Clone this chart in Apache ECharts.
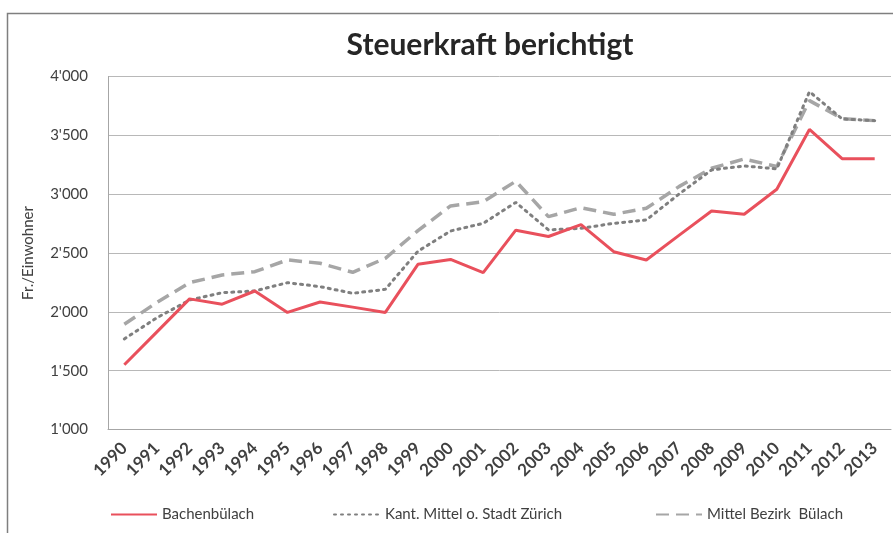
<!DOCTYPE html>
<html>
<head>
<meta charset="utf-8">
<script src="https://cdn.jsdelivr.net/npm/echarts@6/dist/echarts.min.js"></script>
<style>html,body{margin:0;padding:0;background:#fff;}#c{width:893px;height:533px;}</style>
</head>
<body>
<div id="c"></div>
<script>
const years = ['1990','1991','1992','1993','1994','1995','1996','1997','1998','1999','2000','2001','2002','2003','2004','2005','2006','2007','2008','2009','2010','2011','2012','2013'];
const bachenbuelach = [1550,1830,2110,2065,2177,1995,2084,2040,1995,2404,2445,2333,2694,2640,2741,2511,2441,2650,2857,2829,3042,3550,3302,3302];
const kantMittel = [1770,1950,2100,2163,2177,2248,2214,2158,2191,2515,2687,2752,2930,2696,2710,2752,2781,3000,3206,3240,3215,3871,3640,3625];
const bezirkBuelach = [1895,2080,2248,2313,2341,2441,2413,2336,2455,2690,2900,2936,3110,2809,2885,2829,2880,3064,3220,3299,3235,3795,3642,3625];
const yTicks = [1000,1500,2000,2500,3000,3500,4000];
const names = ['Bachenbülach','Kant. Mittel o. Stadt Zürich','Mittel Bezirk  Bülach'];

const chart = echarts.init(document.getElementById('c'), null, {renderer:'canvas'});
const font = 'Lato, "Open Sans", sans-serif';
const fmt = v => {
  const s = String(v);
  return s.length > 3 ? s.slice(0, s.length-3) + "'" + s.slice(-3) : s;
};
const legendBase = {
  orient:'horizontal', top: 502, itemWidth: 46, itemHeight: 14, itemGap: 6,
  itemStyle:{opacity:0},
  textStyle:{fontFamily:font, fontSize:15, color:'#404040'}
};
chart.setOption({
  animation:false,
  backgroundColor:'#ffffff',
  graphic:[{type:'rect', shape:{x:7.5,y:13.5,width:900,height:530}, style:{fill:'none', stroke:'#7f7f7f', lineWidth:1.5}, silent:true, z:-1}],
  title:{text:'Steuerkraft berichtigt', left:485, textAlign:'center', top:25,
    textStyle:{fontFamily:font, fontWeight:'bold', fontSize:30, color:'#262626'}},
  grid:{left:108, top:76.5, right:2, bottom:103.5, containLabel:false},
  legend:[
    Object.assign({}, legendBase, {left:105, data:[names[0]]}),
    Object.assign({}, legendBase, {left:328, data:[names[1]]}),
    Object.assign({}, legendBase, {left:650, data:[names[2]]})
  ],
  xAxis:{type:'category', data:years, boundaryGap:true,
    axisLine:{show:true, lineStyle:{color:'#a6a6a6', width:1}},
    axisTick:{show:false},
    axisLabel:{rotate:45, interval:0, fontFamily:font, fontSize:17, fontWeight:'bold', color:'#404040', margin:16}},
  yAxis:{type:'value', min:1000, max:4000, interval:500,
    name:'Fr./Einwohner', nameLocation:'middle', nameGap:72, nameRotate:90,
    nameTextStyle:{fontFamily:font, fontSize:15, color:'#404040'},
    axisLine:{show:true, lineStyle:{color:'#a6a6a6', width:1}},
    axisTick:{show:false},
    splitLine:{lineStyle:{color:'#b8b8b8', width:1}},
    axisLabel:{fontFamily:font, fontSize:15, color:'#404040', margin:20,
      formatter: v => yTicks.includes(v) ? fmt(v) : ''}},
  series:[
    {name:names[0], type:'line', data:bachenbuelach, symbol:'none', z:5,
      lineStyle:{color:'#e9505c', width:3, type:'solid'}, itemStyle:{color:'#e9505c'}},
    {name:names[1], type:'line', data:kantMittel, symbol:'none', z:4,
      lineStyle:{color:'#7f7f7f', width:3, type:[2,5], cap:'round'}, itemStyle:{color:'#7f7f7f'}},
    {name:names[2], type:'line', data:bezirkBuelach, symbol:'none', z:3,
      lineStyle:{color:'#a6a6a6', width:3.5, type:[13,7]}, itemStyle:{color:'#a6a6a6'}}
  ]
});
</script>
</body>
</html>
